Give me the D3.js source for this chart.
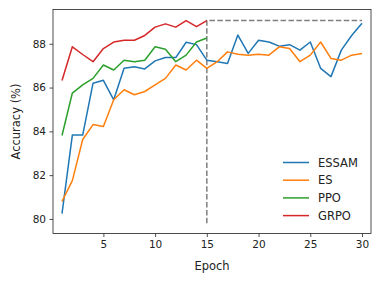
<!DOCTYPE html>
<html lang="en">
<head>
  <meta charset="UTF-8">
  <title>Accuracy vs Epoch</title>
  <script src="https://d3js.org/d3.v7.min.js"></script>
  <style>
    body { margin: 0; background: #fff; }
    text { font-family: "DejaVu Sans", sans-serif; fill: #222; }
  </style>
</head>
<body>
  <div id="container"></div>
  <script>
    var epochs = d3.range(1, 31);
    var essam = [80.24, 83.83, 83.83, 86.2, 86.33, 85.44, 86.88, 86.95, 86.85, 87.22,
      87.37, 87.37, 88.07, 87.96, 87.25, 87.18, 87.10, 88.40, 87.56, 88.16,
      88.08, 87.89, 87.96, 87.71, 88.08, 86.88, 86.50, 87.71, 88.38, 88.94];
    var es = [80.80, 81.75, 83.63, 84.31, 84.22, 85.44, 85.90, 85.67, 85.82, 86.12,
      86.42, 87.03, 86.80, 87.25, 86.88, 87.18, 87.63, 87.52, 87.48, 87.52,
      87.48, 87.86, 87.78, 87.18, 87.48, 88.08, 87.33, 87.25, 87.48, 87.56];
    var ppo = [83.81, 85.75, 86.12, 86.42, 87.03, 86.80, 87.25, 87.18, 87.25, 87.86,
      87.75, 87.18, 87.48, 88.08, 88.26];
    var grpo = [86.32, 87.86, 87.51, 87.18, 87.78, 88.08, 88.16, 88.16, 88.38, 88.76,
      88.91, 88.76, 89.06, 88.78, 89.06];
    var seriesNames = ["ESSAM", "ES", "PPO", "GRPO"];
    var seriesColors = ["#1f77b4", "#ff7f0e", "#2ca02c", "#d62728"];
    var xTicks = [5, 10, 15, 20, 25, 30];
    var yTicks = [80, 82, 84, 86, 88];
    // dashed guide: switch epoch, best GRPO value, bottom of guide
    var switchEpoch = 15, guideTop = 89.06, guideBottom = 79.8;

    var width = 381, height = 284,
      margin = { left: 53, top: 9.5, right: 10, bottom: 50.5 };

    var svg = d3.select("#container").append("svg")
      .attr("width", width).attr("height", height);

    var x = d3.scaleLinear().domain([0.13, 30.87]).range([margin.left, width - margin.right]);
    var y = d3.scaleLinear().domain([79.335, 89.565]).range([height - margin.bottom, margin.top]);

    var line = d3.line()
      .x(function (d, i) { return x(epochs[i]); })
      .y(function (d) { return y(d); });

    var data = [essam, es, ppo, grpo];

    // dashed guide lines
    svg.append("path")
      .attr("d", "M" + x(switchEpoch) + "," + y(guideBottom) + "L" + x(switchEpoch) + "," + y(guideTop) +
        "L" + x(30) + "," + y(guideTop))
      .attr("fill", "none")
      .attr("stroke", "#7f7f7f")
      .attr("stroke-width", 1.5)
      .attr("stroke-dasharray", "5.5,2.4");

    svg.selectAll(".series")
      .data(data)
      .enter()
      .append("path")
      .attr("class", "series")
      .attr("d", line)
      .attr("fill", "none")
      .attr("stroke", function (d, i) { return seriesColors[i]; })
      .attr("stroke-width", 1.5)
      .attr("stroke-linejoin", "round");

    // axes
    var xAxis = svg.append("g")
      .attr("transform", "translate(0," + (height - margin.bottom) + ")")
      .call(d3.axisBottom(x).tickValues(xTicks).tickSize(3.5).tickPadding(3.5));
    var yAxis = svg.append("g")
      .attr("transform", "translate(" + margin.left + ",0)")
      .call(d3.axisLeft(y).tickValues(yTicks).tickSize(3.5).tickPadding(3.5));
    [xAxis, yAxis].forEach(function (g) {
      g.select(".domain").remove();
      g.selectAll("line").attr("stroke", "#222").attr("stroke-width", 0.8);
      g.selectAll("text").attr("font-size", 10.5).style("fill", "#222");
    });

    svg.append("rect")
      .attr("x", margin.left).attr("y", margin.top)
      .attr("width", width - margin.left - margin.right)
      .attr("height", height - margin.top - margin.bottom)
      .attr("fill", "none").attr("stroke", "#222").attr("stroke-width", 0.8);

    svg.append("text")
      .attr("x", (margin.left + width - margin.right) / 2)
      .attr("y", 270)
      .attr("text-anchor", "middle")
      .attr("font-size", 11.5)
      .text("Epoch");

    svg.append("text")
      .attr("transform", "translate(19.5," + (margin.top + height - margin.bottom) / 2 + ") rotate(-90)")
      .attr("text-anchor", "middle")
      .attr("font-size", 11.5)
      .text("Accuracy (%)");

    // legend
    var legend = svg.append("g").attr("transform", "translate(283,162.5)");
    seriesNames.forEach(function (name, i) {
      var row = legend.append("g").attr("transform", "translate(0," + i * 17.7 + ")");
      row.append("line").attr("x1", 0).attr("x2", 26).attr("y1", 0).attr("y2", 0)
        .attr("stroke", seriesColors[i]).attr("stroke-width", 1.5);
      row.append("text").attr("x", 35).attr("y", 0).attr("dy", "0.35em")
        .attr("font-size", 11.5).text(name);
    });
  </script>
</body>
</html>
